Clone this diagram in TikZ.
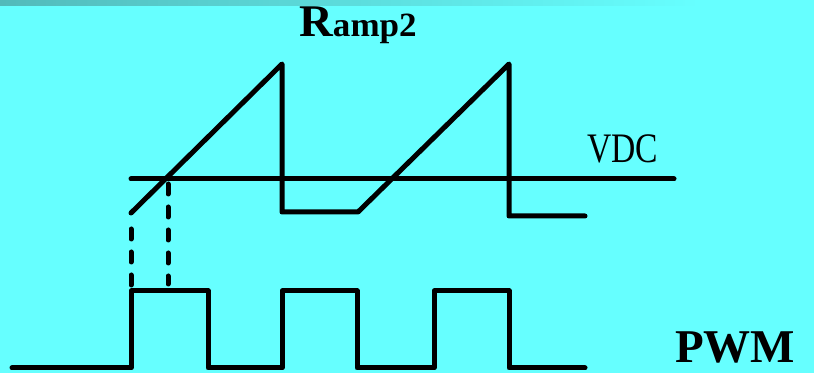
\documentclass[tikz,border=0pt]{standalone}
\usepackage{fontspec}
\setmainfont{Liberation Serif}
\definecolor{bgc}{HTML}{66FFFF}
\definecolor{stripc}{HTML}{52BABA}
\tikzset{
  wave/.style={line width=3.75pt, line cap=round, line join=round, black},
  guide/.style={line width=3.75pt, line cap=round, black, dash pattern=on 7.5pt off 9.75pt},
  lbl/.style={inner sep=0pt, anchor=base west, black}
}
\begin{document}
\begin{tikzpicture}[x=0.75pt, y=-0.75pt]
\fill[bgc] (0,0) rectangle (814,373);
\useasboundingbox (0,0) rectangle (814,373);
\shade[left color=stripc, right color=bgc] (0,0) rectangle (700,6);
% ramp waveform
\draw[wave] (131,213) -- (282,64) -- (282,212) -- (358,212) -- (509,64) -- (509,216) -- (585,216);
% VDC level
\draw[wave] (131,179) -- (674,179);
% dashed guides
\draw[guide] (131,229) -- (131,288);
\draw[guide] (168,184) -- (168,284);
% PWM waveform
\draw[wave] (12,368) -- (131,368) -- (131,291) -- (208,291) -- (208,368) -- (282,368) -- (282,291) -- (357,291) -- (357,368) -- (434,368) -- (434,291) -- (509,291) -- (509,368) -- (585,368);
% labels
\node[lbl] (ramp) at (299,37) {\bfseries\scalebox{1.03}[1]{\fontsize{34}{34}\selectfont R\fontsize{25.5}{25.5}\selectfont amp2}};
\node[lbl] (vdc) at (587,163) {\scalebox{0.8}[1]{\fontsize{31.5}{31.5}\selectfont VDC}};
\node[lbl] (pwm) at (675,363) {\bfseries\fontsize{35.25}{35.25}\selectfont PWM};
\end{tikzpicture}
\end{document}
